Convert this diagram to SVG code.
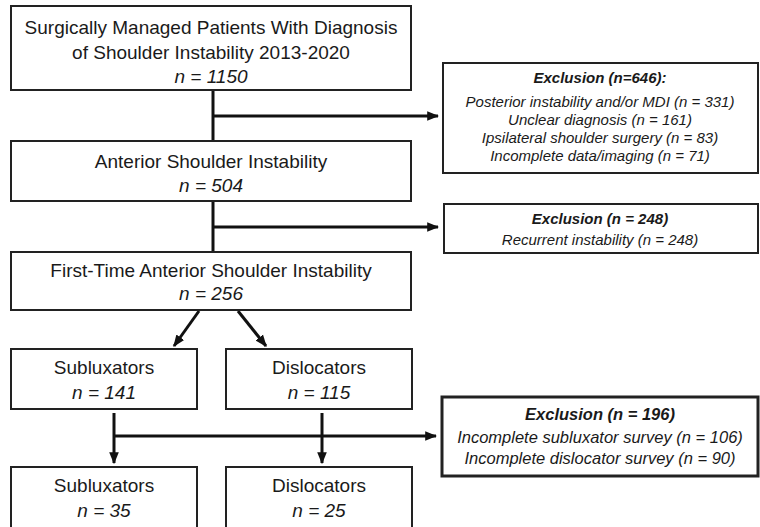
<svg xmlns="http://www.w3.org/2000/svg" width="760" height="527" viewBox="0 0 760 527">
<defs>
<marker id="ah" viewBox="0 0 10 10" refX="9" refY="5" markerWidth="4" markerHeight="4" markerUnits="strokeWidth" orient="auto">
<path d="M0,1 L10,5 L0,9 z" fill="#111"/>
</marker>
<style>
.box{fill:#fff;stroke:#222;stroke-width:2}
.thick{stroke-width:3}
.t{font-family:"Liberation Sans",Arial,sans-serif;font-size:19px;fill:#1a1a1a;text-anchor:middle}
.n{font-style:italic}
.e{font-family:"Liberation Sans",Arial,sans-serif;font-size:15px;fill:#1a1a1a;text-anchor:middle;font-style:italic}
.e3{font-size:16.5px}
.b{font-weight:bold}
.c{fill:none;stroke:#111;stroke-width:3}
</style>
</defs>
<rect width="760" height="527" fill="#fff"/>
<g id="connectors">
<line class="c" x1="213" y1="90" x2="213" y2="141"/>
<line class="c" x1="213" y1="116" x2="438" y2="116" marker-end="url(#ah)"/>
<line class="c" x1="213" y1="201" x2="213" y2="252"/>
<line class="c" x1="213" y1="227" x2="438" y2="227" marker-end="url(#ah)"/>
<line class="c" x1="199" y1="311" x2="174" y2="346" marker-end="url(#ah)"/>
<line class="c" x1="238" y1="311" x2="266" y2="346" marker-end="url(#ah)"/>
<line class="c" x1="114" y1="413" x2="114" y2="463" marker-end="url(#ah)"/>
<line class="c" x1="322" y1="413" x2="322" y2="463" marker-end="url(#ah)"/>
<line class="c" x1="114" y1="436" x2="436" y2="436" marker-end="url(#ah)"/>
</g>
<g id="n1">
<rect class="box" x="11" y="6" width="400" height="84"/>
<text class="t" x="211" y="34">Surgically Managed Patients With Diagnosis</text>
<text class="t" x="211" y="59">of Shoulder Instability 2013-2020</text>
<text class="t n" x="211" y="83">n = 1150</text>
</g>
<g id="n2">
<rect class="box" x="11" y="141" width="400" height="60"/>
<text class="t" x="211" y="168">Anterior Shoulder Instability</text>
<text class="t n" x="211" y="192">n = 504</text>
</g>
<g id="n3">
<rect class="box" x="11" y="252" width="400" height="58"/>
<text class="t" x="211" y="277">First-Time Anterior Shoulder Instability</text>
<text class="t n" x="211" y="300">n = 256</text>
</g>
<g id="n4">
<rect class="box" x="11" y="349" width="186" height="60"/>
<text class="t" x="104" y="374">Subluxators</text>
<text class="t n" x="104" y="399">n = 141</text>
</g>
<g id="n5">
<rect class="box" x="226" y="349" width="186" height="60"/>
<text class="t" x="319" y="374">Dislocators</text>
<text class="t n" x="319" y="399">n = 115</text>
</g>
<g id="n6">
<rect class="box" x="11" y="467" width="186" height="64"/>
<text class="t" x="104" y="492">Subluxators</text>
<text class="t n" x="104" y="517">n = 35</text>
</g>
<g id="n7">
<rect class="box" x="226" y="467" width="186" height="64"/>
<text class="t" x="319" y="492">Dislocators</text>
<text class="t n" x="319" y="517">n = 25</text>
</g>
<g id="x1">
<rect class="box" x="443" y="63" width="315" height="110"/>
<text class="e b" x="600" y="83">Exclusion (n=646):</text>
<text class="e" x="600" y="107">Posterior instability and/or MDI (n = 331)</text>
<text class="e" x="600" y="125">Unclear diagnosis (n = 161)</text>
<text class="e" x="600" y="143">Ipsilateral shoulder surgery (n = 83)</text>
<text class="e" x="600" y="161">Incomplete data/imaging (n = 71)</text>
</g>
<g id="x2">
<rect class="box" x="444" y="204" width="314" height="49"/>
<text class="e b" x="600" y="224">Exclusion (n = 248)</text>
<text class="e" x="600" y="245">Recurrent instability (n = 248)</text>
</g>
<g id="x3">
<rect class="box thick" x="442" y="397" width="316" height="79"/>
<text class="e e3 b" x="600" y="420">Exclusion (n = 196)</text>
<text class="e e3" x="600" y="443">Incomplete subluxator survey (n = 106)</text>
<text class="e e3" x="600" y="464">Incomplete dislocator survey (n = 90)</text>
</g>
</svg>
